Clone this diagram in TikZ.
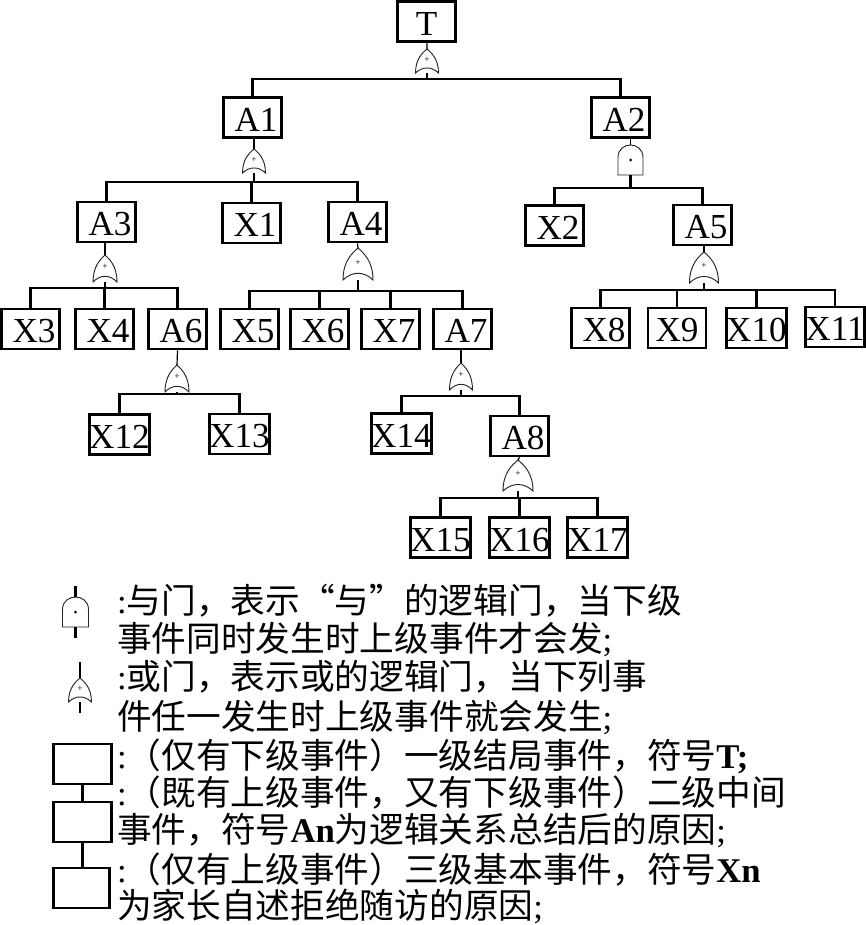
\documentclass[tikz,border=0pt]{standalone}
\usepackage{fontspec}
\setmainfont{Liberation Serif}
\newfontfamily\cjk{Noto Sans CJK SC}
\newcommand{\latintxt}[1]{{\rmfamily #1}}
\newcommand{\nudged}[1]{\kern6pt #1}
\tikzset{
  evbox/.style={draw,line width=2.2pt,minimum width=1.74cm,minimum height=1.2cm,inner sep=0pt,
    text height=23.4pt,text depth=0pt,font=\fontsize{30}{36}\selectfont},
  wire/.style={line width=2pt},
  thinwire/.style={line width=1pt},
  gateline/.style={line width=0.8pt,black!85},
  gatemark/.style={inner sep=0pt,font=\fontsize{8}{9}\selectfont},
  legendtxt/.style={anchor=base west,inner sep=0pt,font=\cjk\fontsize{29.6}{36}\selectfont},
  pics/orgate/.style 2 args={code={
    \coordinate (-top) at (0,0);
    \coordinate (-bot) at (0,#2);
    \draw[gateline] (-#1/2,#2) .. controls (-#1/2,0.4*#2) and (-0.18*#1,0.15*#2) .. (0,0)
      .. controls (0.18*#1,0.15*#2) and (#1/2,0.4*#2) .. (#1/2,#2)
      .. controls (0.2*#1,0.72*#2) and (-0.2*#1,0.72*#2) .. cycle;
    \node[gatemark] (-mark) at (0,0.45*#2) {+};
  }},
  pics/andgate/.style 2 args={code={
    \coordinate (-top) at (0,0);
    \coordinate (-bot) at (0,#2);
    \draw[gateline] (-#1/2,#2) -- (-#1/2,0.42*#2) .. controls (-#1/2,0.12*#2) and (-0.22*#1,0) .. (0,0)
      .. controls (0.22*#1,0) and (#1/2,0.12*#2) .. (#1/2,0.42*#2) -- (#1/2,#2) -- cycle;
    \fill (0,0.5*#2) circle (1.5);
  }}
}
\begin{document}
\begin{tikzpicture}[x=0.03cm,y=-0.03cm]
    \useasboundingbox (0,0) rectangle (865,925);

    % Top event
    \node[evbox] (T) at (426.5,21.5) {T};
    \pic (gT) at (427,49) {orgate={23}{24}};
    \coordinate (busT) at (427,79);
    \draw[thinwire] (T) -- (gT-top);
    \draw[wire] (gT-bot) -- (busT);

    % Second row
    \node[evbox] (A1) at (252.5,117.5) {\nudged{A1}};
    \node[evbox] (A2) at (620.5,117.5) {\nudged{A2}};
    \draw[wire] (A1.north) |- (busT) -| (A2.north);

    % Under A1
    \pic (gA1) at (254,149) {orgate={23}{24}};
    \coordinate (busA1) at (254,182);
    \node[evbox] (A3) at (106.5,222) {\nudged{A3}};
    \node[evbox] (X1) at (251.5,223) {\nudged{X1}};
    \node[evbox] (A4) at (357.5,222) {\nudged{A4}};
    \draw[wire] (gA1-top |- A1.south) -- (gA1-top);
    \draw[wire] (gA1-bot) -- (busA1);
    \draw[wire] (A3.north) |- (busA1) -| (A4.north);
    \draw[wire] (busA1) -| (X1.north);

    % Under A2
    \pic (gA2) at (630.5,145) {andgate={25}{30}};
    \coordinate (busA2) at (630.5,188);
    \node[evbox] (X2) at (554.5,225.5) {\nudged{X2}};
    \node[evbox] (A5) at (702.5,225) {\nudged{A5}};
    \draw[thinwire] (gA2-top |- A2.south) -- (gA2-top);
    \draw[wire] (gA2-bot) -- (busA2);
    \draw[wire] (X2.north) |- (busA2) -| (A5.north);

    % Under A3
    \pic (gA3) at (105,255) {orgate={24}{27}};
    \coordinate (busA3) at (105,288);
    \node[evbox] (X3) at (30.5,329) {\nudged{X3}};
    \node[evbox] (X4) at (104.5,329) {\nudged{X4}};
    \node[evbox] (A6) at (177.5,329) {\nudged{A6}};
    \draw[thinwire] (gA3-top |- A3.south) -- (gA3-top);
    \draw[wire] (gA3-bot) -- (busA3);
    \draw[wire] (X3.north) |- (busA3) -| (A6.north);
    \draw[wire] (busA3) -| (X4.north);

    % Under A4
    \pic (gA4) at (358,248) {orgate={30}{32}};
    \coordinate (busA4) at (358,291);
    \node[evbox] (X5) at (249.5,329) {\nudged{X5}};
    \node[evbox] (X6) at (319.5,329) {\nudged{X6}};
    \node[evbox] (X7) at (390.5,329) {\nudged{X7}};
    \node[evbox] (A7) at (462.5,329) {\nudged{A7}};
    \draw[thinwire] (A4.south) -- (gA4-top);
    \draw[wire] (gA4-bot) -- (busA4);
    \draw[wire] (X5.north) |- (busA4) -| (A7.north);
    \draw[wire] (busA4) -| (X6.north);
    \draw[wire] (busA4) -| (X7.north);

    % Under A5
    \pic (gA5) at (704,252) {orgate={29}{31}};
    \coordinate (busA5) at (704,290);
    \node[evbox] (X8) at (600.5,328) {\nudged{X8}};
    \node[evbox] (X9) at (677,328) {X9};
    \node[evbox] (X10) at (756.5,328) {X10};
    \node[evbox] (X11) at (835,327) {X11};
    \draw[thinwire] (gA5-top |- A5.south) -- (gA5-top);
    \draw[wire] (gA5-bot) -- (busA5);
    \draw[wire] (X8.north) |- (busA5) -| (X11.north);
    \draw[wire] (busA5) -| (X9.north);
    \draw[wire] (busA5) -| (X10.north);

    % Under A6
    \pic (gA6) at (177,365) {orgate={24}{27}};
    \coordinate (busA6) at (177,394);
    \node[evbox] (X12) at (119.5,434.5) {X12};
    \node[evbox] (X13) at (239.5,434) {X13};
    \draw[thinwire] (A6.south) -- (gA6-top);
    \draw[wire] (gA6-bot) -- (busA6);
    \draw[wire] (X12.north) |- (busA6) -| (X13.north);

    % Under A7
    \pic (gA7) at (461,363) {orgate={23}{27}};
    \coordinate (busA7) at (461,396);
    \node[evbox] (X14) at (401.5,433.5) {X14};
    \node[evbox] (A8) at (519.5,436) {\nudged{A8}};
    \draw[wire] (gA7-top |- A7.south) -- (gA7-top);
    \draw[wire] (gA7-bot) -- (busA7);
    \draw[wire] (X14.north) |- (busA7) -| (A8.north);

    % Under A8
    \pic (gA8) at (518,460) {orgate={30}{31}};
    \coordinate (busA8) at (518,498);
    \node[evbox] (X15) at (440.5,537.5) {X15};
    \node[evbox] (X16) at (519.5,537.5) {X16};
    \node[evbox] (X17) at (597.5,537.5) {X17};
    \draw[thinwire] (A8.south) -- (gA8-top);
    \draw[wire] (gA8-bot) -- (busA8);
    \draw[wire] (X15.north) |- (busA8) -| (X17.north);
    \draw[wire] (busA8) -| (X16.north);

    % Legend gates
    \pic (lgAnd) at (75.5,597) {andgate={26}{30}};
    \coordinate (lgAndUp) at (75.5,586);
    \coordinate (lgAndDown) at (75.5,638);
    \draw[wire] (lgAndUp) -- (lgAnd-top);
    \draw[wire] (lgAnd-bot) -- (lgAndDown);
    \pic (lgOr) at (80,678) {orgate={23}{24}};
    \coordinate (lgOrUp) at (80,662);
    \coordinate (lgOrDown) at (80,713);
    \draw[wire] (lgOrUp) -- (lgOr-top);
    \draw[wire] (lgOr-bot) -- (lgOrDown);

    % Legend boxes
    \node[evbox] (lgTop) at (82.5,764) {};
    \node[evbox] (lgMid) at (82.5,822) {};
    \node[evbox,minimum width=1.68cm] (lgBase) at (81.5,888) {};
    \draw[wire] (lgTop) -- (lgMid);
    \draw[wire] (lgMid) -- (lgBase.north -| lgMid);

    % Legend text
    \node[legendtxt] (t1) at (117,613) {\latintxt{:}与门，表示“与”的逻辑门，当下级};
    \node[legendtxt] (t2) at (117,651) {事件同时发生时上级事件才会发\latintxt{;}};
    \node[legendtxt] (t3) at (117,689) {\latintxt{:}或门，表示或的逻辑门，当下列事};
    \node[legendtxt] (t4) at (117,729) {件任一发生时上级事件就会发生\latintxt{;}};
    \node[legendtxt] (t5) at (117,768) {\latintxt{:}（仅有下级事件）一级结局事件，符号\latintxt{\bfseries T;}};
    \node[legendtxt] (t6) at (117,805) {\latintxt{:}（既有上级事件，又有下级事件）二级中间};
    \node[legendtxt] (t7) at (117,842) {事件，符号\latintxt{\bfseries An}为逻辑关系总结后的原因\latintxt{;}};
    \node[legendtxt] (t8) at (117,882) {\latintxt{:}（仅有上级事件）三级基本事件，符号\latintxt{\bfseries Xn}};
    \node[legendtxt] (t9) at (117,918) {为家长自述拒绝随访的原因\latintxt{;}};
\end{tikzpicture}
\end{document}
